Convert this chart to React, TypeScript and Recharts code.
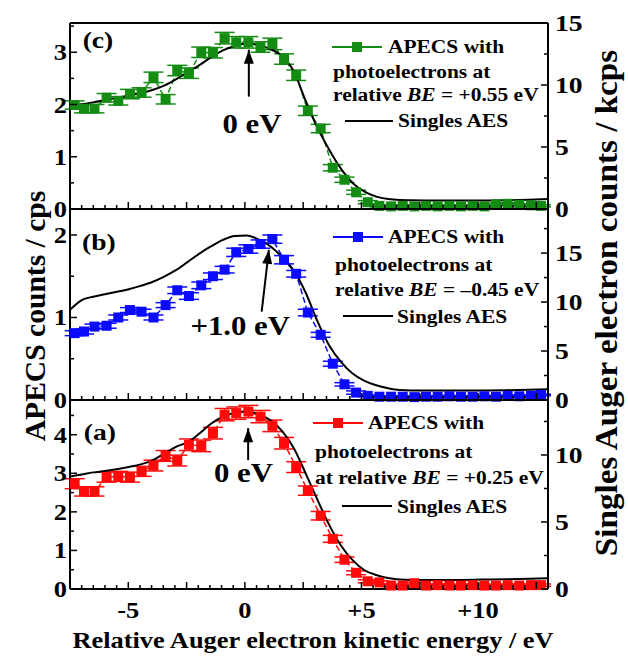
import React from 'react';
import {
  ComposedChart,
  Line,
  XAxis,
  YAxis,
  ErrorBar,
  Legend,
  ReferenceLine,
  ReferenceDot,
} from 'recharts';

const FONT = "'Liberation Serif', 'Times New Roman', Times, serif";
const GREEN = '#148c14';
const BLUE = '#0a0aff';
const RED = '#ff0a0a';

// relative Auger electron kinetic energy of the APECS points (eV)
const apecsEnergy = [
  -7.3, -6.9, -6.45, -5.93, -5.43, -4.93, -4.43, -3.92, -3.4, -2.9, -2.4, -1.87, -1.37, -0.87,
  -0.37, 0.15, 0.67, 1.18, 1.68, 2.2, 2.7, 3.25, 3.77, 4.27, 4.77, 5.27, 5.77, 6.27, 6.77, 7.27,
  7.77, 8.27, 8.77, 9.27, 9.77, 10.27, 10.77, 11.27, 11.77, 12.27, 12.7,
];

// (c) BE = +0.55 eV
const apecsC = [
  1.99, 1.92, 1.92, 2.13, 2.07, 2.2, 2.23, 2.52, 2.1, 2.65, 2.6, 3.0, 2.99, 3.27, 3.19, 3.19,
  3.1, 3.16, 2.87, 2.56, 1.88, 1.54, 0.79, 0.56, 0.32, 0.13, 0.06, 0.05, 0.06, 0.05, 0.06, 0.05,
  0.06, 0.05, 0.06, 0.05, 0.09, 0.1, 0.08, 0.07, 0.06,
];
const apecsCErr = [
  0.08, 0.08, 0.08, 0.08, 0.08, 0.09, 0.09, 0.1, 0.09, 0.1, 0.1, 0.1, 0.1, 0.11, 0.11, 0.11,
  0.1, 0.11, 0.1, 0.1, 0.09, 0.08, 0.06, 0.05, 0.04, 0.03, 0.02, 0.02, 0.02, 0.02, 0.02, 0.02,
  0.02, 0.02, 0.02, 0.02, 0.02, 0.02, 0.02, 0.02, 0.02,
];

// (b) BE = -0.45 eV
const apecsB = [
  0.81, 0.83, 0.89, 0.9, 1.0, 1.09, 1.07, 1.0, 1.15, 1.33, 1.26, 1.39, 1.5, 1.58, 1.79, 1.83,
  1.89, 1.95, 1.7, 1.53, 1.06, 0.79, 0.44, 0.19, 0.09, 0.05, 0.04, 0.04, 0.04, 0.035, 0.04, 0.04,
  0.045, 0.04, 0.04, 0.045, 0.04, 0.05, 0.045, 0.05, 0.06,
];
const apecsBErr = [
  0.03, 0.03, 0.03, 0.03, 0.03, 0.03, 0.03, 0.03, 0.03, 0.04, 0.04, 0.04, 0.04, 0.04, 0.05, 0.05,
  0.05, 0.05, 0.05, 0.04, 0.04, 0.03, 0.03, 0.02, 0.02, 0.01, 0.01, 0.01, 0.01, 0.01, 0.01, 0.01,
  0.01, 0.01, 0.01, 0.01, 0.01, 0.01, 0.01, 0.01, 0.01,
];

// (a) BE = +0.25 eV
const apecsA = [
  2.73, 2.53, 2.53, 2.9, 2.92, 2.9, 3.05, 3.2, 3.45, 3.33, 3.74, 3.71, 4.04, 4.52, 4.56, 4.6,
  4.47, 4.23, 3.78, 3.16, 2.55, 1.9, 1.3, 0.76, 0.42, 0.2, 0.17, 0.09, 0.09, 0.15, 0.09, 0.1,
  0.09, 0.09, 0.1, 0.09, 0.09, 0.1, 0.09, 0.1, 0.1,
];
const apecsAErr = [
  0.13, 0.12, 0.12, 0.13, 0.13, 0.13, 0.13, 0.14, 0.14, 0.14, 0.15, 0.15, 0.15, 0.16, 0.16, 0.16,
  0.16, 0.15, 0.15, 0.14, 0.12, 0.11, 0.09, 0.07, 0.05, 0.04, 0.04, 0.03, 0.03, 0.03, 0.03, 0.03,
  0.03, 0.03, 0.03, 0.03, 0.03, 0.03, 0.03, 0.03, 0.03,
];

// singles AES (kcps)
const singlesEnergy = [
  -7.5, -7.0, -6.5, -6.0, -4.98, -4.47, -3.97, -3.46, -2.96, -2.45, -1.95, -1.44, -0.94, -0.43,
  0.08, 0.58, 1.09, 1.59, 2.1, 2.6, 3.1, 3.61, 4.12, 4.62, 5.13, 5.63, 6.14, 6.64, 7.15, 8.16,
  9.17, 10.18, 11.19, 12.2, 13.0,
];
const singlesC = [
  8.3, 8.45, 8.6, 8.8, 9.15, 9.35, 9.6, 9.95, 10.45, 11.05, 11.6, 12.25, 12.8, 13.15, 13.35,
  13.25, 12.9, 12.35, 11.1, 8.75, 6.6, 4.8, 3.25, 2.1, 1.4, 1.0, 0.8, 0.72, 0.7, 0.68, 0.68, 0.68,
  0.7, 0.75, 0.8,
];
const singlesB = [
  9.2, 10.2, 10.55, 10.8, 11.3, 11.65, 12.05, 12.6, 13.25, 14.1, 14.95, 15.7, 16.35, 16.75, 16.8,
  16.4, 15.7, 14.6, 13.2, 11.0, 8.1, 5.6, 3.9, 2.7, 1.95, 1.5, 1.2, 1.02, 0.98, 0.97, 0.97, 0.98,
  1.0, 1.05, 1.1,
];
const singlesA = [
  8.4, 8.55, 8.7, 8.8, 9.1, 9.3, 9.6, 10.1, 10.6, 10.95, 11.6, 12.35, 12.85, 13.15, 13.26,
  13.05, 12.6, 11.8, 10.5, 8.65, 6.7, 4.8, 3.25, 2.15, 1.4, 1.05, 0.82, 0.7, 0.68, 0.68, 0.68,
  0.7, 0.72, 0.76, 0.8,
];

const X_DOMAIN: [number, number] = [-7.5, 13];
const xTicks = Array.from({ length: 42 }, (_, i) => -7.5 + i * 0.5);
const xLabels = [-5, 0, 5, 10];

const apecsRows = (vals: number[], errs: number[]) =>
  apecsEnergy.map((e, i) => ({ e, v: vals[i], err: errs[i] }));
const singlesRows = (vals: number[]) => singlesEnergy.map((e, i) => ({ e, k: vals[i] }));

const W = 628;
const PLOT_L = 70;
const PLOT_R = 548;
const PAD = 14;

const Txt = ({ x, y, size, sx = 1.1, anchor = 'middle', rotate = 0, children }: any) => (
  <text
    transform={`translate(${x},${y})${rotate ? ` rotate(${rotate})` : ''} scale(${sx},1)`}
    textAnchor={anchor}
    fontFamily={FONT}
    fontWeight="bold"
    fontSize={size}
    fill="#000"
  >
    {children}
  </text>
);

const near = (v: number, step: number) => Math.abs(v / step - Math.round(v / step)) < 1e-6;
const fmtX = (v: number) => (v > 0 ? `+${v}` : v < 0 ? `-${Math.abs(v)}` : '0');

const xTick = (side: 'top' | 'bottom', labelled: boolean) => (p: any) => {
  const v = p.payload.value;
  const len = near(v, 2.5) ? 7 : 4;
  const dir = side === 'bottom' ? -1 : 1;
  return (
    <g>
      <line x1={p.x} x2={p.x} y1={p.y} y2={p.y + dir * len} stroke="#000" strokeWidth={1.5} />
      {labelled && xLabels.includes(v) && (
        <Txt x={p.x} y={p.y + 29} size={23} sx={1.15}>
          {fmtX(v)}
        </Txt>
      )}
    </g>
  );
};

const leftTick = (p: any) => {
  const v = p.payload.value;
  const major = near(v, 1);
  return (
    <g>
      <line x1={p.x} x2={p.x + (major ? 7 : 4)} y1={p.y} y2={p.y} stroke="#000" strokeWidth={1.5} />
      {major && (
        <Txt x={p.x - 3} y={p.y + 8} size={23} sx={1.15} anchor="end">
          {v}
        </Txt>
      )}
    </g>
  );
};

const rightTick = (p: any) => {
  const v = p.payload.value;
  const major = near(v, 5);
  return (
    <g>
      <line x1={p.x} x2={p.x - (major ? 7 : 4)} y1={p.y} y2={p.y} stroke="#000" strokeWidth={1.5} />
      {major && (
        <Txt x={p.x + 7} y={p.y + 8} size={23} sx={1.2} anchor="start">
          {v}
        </Txt>
      )}
    </g>
  );
};

const textShape = (label: React.ReactNode, size: number, sx = 1.1) => (p: any) => (
  <Txt x={p.cx} y={p.cy} size={size} sx={sx}>
    {label}
  </Txt>
);
const headShape = (angle: number) => (p: any) => (
  <polygon
    points={`${p.cx},${p.cy} ${p.cx - 5},${p.cy + 14} ${p.cx + 5},${p.cy + 14}`}
    fill="#000"
    transform={`rotate(${angle} ${p.cx} ${p.cy})`}
  />
);

const LTxt = ({ x, y, children }: any) => (
  <Txt x={x} y={y} size={19.5} sx={1.1} anchor="start">
    {children}
  </Txt>
);

const LegendBox = ({ color, g, line3 }: any) => (
  <svg width={250} height={125} style={{ display: 'block', overflow: 'visible' }}>
    <line x1={g.sx1} x2={g.sx2} y1={g.sy} y2={g.sy} stroke={color} strokeWidth={2} />
    <rect x={(g.sx1 + g.sx2) / 2 - 5} y={g.sy - 5} width={10} height={10} fill={color} />
    <LTxt x={g.t1[0]} y={g.t1[1]}>APECS with</LTxt>
    <LTxt x={g.t2[0]} y={g.t2[1]}>photoelectrons at</LTxt>
    <LTxt x={g.t3[0]} y={g.t3[1]}>{line3}</LTxt>
    <line x1={g.bx1} x2={g.bx2} y1={g.by} y2={g.by} stroke="#000" strokeWidth={2} />
    <LTxt x={g.t4[0]} y={g.t4[1]}>Singles AES</LTxt>
  </svg>
);

const Panel = (p: any) => {
  const plotH = p.bottom - p.top;
  const extra = p.showX ? 36 : PAD;
  const axis = { stroke: '#000', strokeWidth: 2 };
  const a = p.ann;
  return (
    <div style={{ position: 'absolute', left: 0, top: p.top - PAD }}>
      <ComposedChart
        width={W}
        height={PAD + plotH + extra}
        margin={{ top: PAD - 1, bottom: extra - 1, left: PLOT_L - 1, right: W - PLOT_R - 1 }}
      >
        <XAxis
          xAxisId="b"
          dataKey="e"
          type="number"
          domain={X_DOMAIN}
          ticks={xTicks}
          interval={0}
          height={1}
          tickSize={0}
          tickMargin={0}
          tickLine={false}
          axisLine={axis}
          tick={xTick('bottom', p.showX)}
        />
        <XAxis
          xAxisId="t"
          dataKey="e"
          type="number"
          orientation="top"
          domain={X_DOMAIN}
          ticks={xTicks}
          interval={0}
          height={1}
          tickSize={0}
          tickMargin={0}
          tickLine={false}
          axisLine={axis}
          tick={xTick('top', false)}
        />
        <YAxis
          yAxisId="l"
          domain={[0, p.leftMax]}
          ticks={p.leftTicks}
          interval={0}
          width={1}
          tickSize={0}
          tickMargin={0}
          tickLine={false}
          axisLine={axis}
          tick={leftTick}
        />
        <YAxis
          yAxisId="r"
          orientation="right"
          domain={[0, p.rightMax]}
          ticks={p.rightTicks}
          interval={0}
          width={1}
          tickSize={0}
          tickMargin={0}
          tickLine={false}
          axisLine={axis}
          tick={rightTick}
        />
        <Line
          xAxisId="b"
          yAxisId="l"
          data={p.apecs}
          dataKey="v"
          type="linear"
          stroke={p.color}
          strokeWidth={1.5}
          strokeDasharray="6 3"
          isAnimationActive={false}
          activeDot={false}
          dot={(d: any) => (
            <rect key={`d${d.index}`} x={d.cx - 5} y={d.cy - 5} width={10} height={10} fill={p.color} />
          )}
        >
          <ErrorBar dataKey="err" width={10} stroke={p.color} strokeWidth={1.5} direction="y" />
        </Line>
        <Line
          xAxisId="b"
          yAxisId="r"
          data={p.singles}
          dataKey="k"
          type="monotone"
          stroke="#000"
          strokeWidth={2}
          dot={false}
          activeDot={false}
          isAnimationActive={false}
        />
        <ReferenceDot xAxisId="b" yAxisId="l" x={a.tag[0]} y={a.tag[1]} shape={textShape(p.tag, 24, 1.15)} />
        <ReferenceLine
          xAxisId="b"
          yAxisId="l"
          segment={[
            { x: a.tail[0], y: a.tail[1] },
            { x: a.tip[0], y: a.tip[1] },
          ]}
          stroke="#000"
          strokeWidth={2}
        />
        <ReferenceDot xAxisId="b" yAxisId="l" x={a.tip[0]} y={a.tip[1]} shape={headShape(a.angle)} />
        <ReferenceDot xAxisId="b" yAxisId="l" x={a.text[0]} y={a.text[1]} shape={textShape(a.label, 28, 1.1)} />
        <Legend
          verticalAlign="middle"
          align="center"
          layout="horizontal"
          wrapperStyle={{ left: 300, top: PAD, width: 250, height: 125 }}
          content={() => <LegendBox color={p.color} g={p.legend} line3={p.line3} />}
        />
      </ComposedChart>
    </div>
  );
};

export default function App() {
  return (
    <div style={{ position: 'absolute', left: 0, top: 0, width: W, height: 657, background: '#fff' }}>
      <Panel
        top={23}
        bottom={209}
        showX={false}
        leftMax={3.56}
        rightMax={15}
        leftTicks={[0, 0.5, 1, 1.5, 2, 2.5, 3, 3.5]}
        rightTicks={[0, 2.5, 5, 7.5, 10, 12.5, 15]}
        color={GREEN}
        apecs={apecsRows(apecsC, apecsCErr)}
        singles={singlesRows(singlesC)}
        tag="(c)"
        ann={{ tag: [-6.3, 3.08], tail: [0.17, 2.15], tip: [0.17, 3.05], angle: 0, text: [0.3, 1.46], label: '0 eV' }}
        legend={{ sy: 24, sx1: 32, sx2: 82, t1: [88, 30], t2: [33, 55], t3: [33, 78], by: 98, bx1: 45, bx2: 93, t4: [98, 104] }}
        line3={<>relative <tspan fontStyle="italic">BE</tspan> = +0.55 eV</>}
      />
      <Panel
        top={209}
        bottom={400}
        showX={false}
        leftMax={2.315}
        rightMax={19.5}
        leftTicks={[0, 0.5, 1, 1.5, 2]}
        rightTicks={[0, 2.5, 5, 7.5, 10, 12.5, 15, 17.5]}
        color={BLUE}
        apecs={apecsRows(apecsB, apecsBErr)}
        singles={singlesRows(singlesB)}
        tag="(b)"
        ann={{ tag: [-6.26, 1.82], tail: [0.72, 1.07], tip: [1.03, 1.82], angle: 7, text: [-0.2, 0.79], label: '+1.0 eV' }}
        legend={{ sy: 28, sx1: 33, sx2: 83, t1: [88, 34], t2: [35, 62], t3: [35, 87], by: 107, bx1: 43, bx2: 93, t4: [97, 114] }}
        line3={<>relative <tspan fontStyle="italic">BE</tspan> = –0.45 eV</>}
      />
      <Panel
        top={400}
        bottom={589}
        showX={true}
        leftMax={4.9}
        rightMax={14.1}
        leftTicks={[0, 0.5, 1, 1.5, 2, 2.5, 3, 3.5, 4, 4.5]}
        rightTicks={[0, 2.5, 5, 7.5, 10, 12.5]}
        color={RED}
        apecs={apecsRows(apecsA, apecsAErr)}
        singles={singlesRows(singlesA)}
        tag="(a)"
        ann={{ tag: [-6.22, 3.86], tail: [0.14, 3.34], tip: [0.14, 4.17], angle: 0, text: [-0.06, 2.77], label: '0 eV' }}
        legend={{ sy: 23, sx1: 13, sx2: 63, t1: [68, 29], t2: [15, 58], t3: [15, 84], by: 106, bx1: 42, bx2: 92, t4: [97, 113] }}
        line3={<>at relative <tspan fontStyle="italic">BE</tspan> = +0.25 eV</>}
      />
      <svg
        width={W}
        height={657}
        style={{ position: 'absolute', left: 0, top: 0, pointerEvents: 'none' }}
      >
        <Txt x={45} y={316} size={29} sx={1.02} rotate={-90}>
          APECS counts / cps
        </Txt>
        <Txt x={617} y={303} size={31} sx={1.07} rotate={-90}>
          Singles Auger electron counts / kcps
        </Txt>
        <Txt x={313} y={648} size={24} sx={1.1}>
          Relative Auger electron kinetic energy / eV
        </Txt>
      </svg>
    </div>
  );
}
